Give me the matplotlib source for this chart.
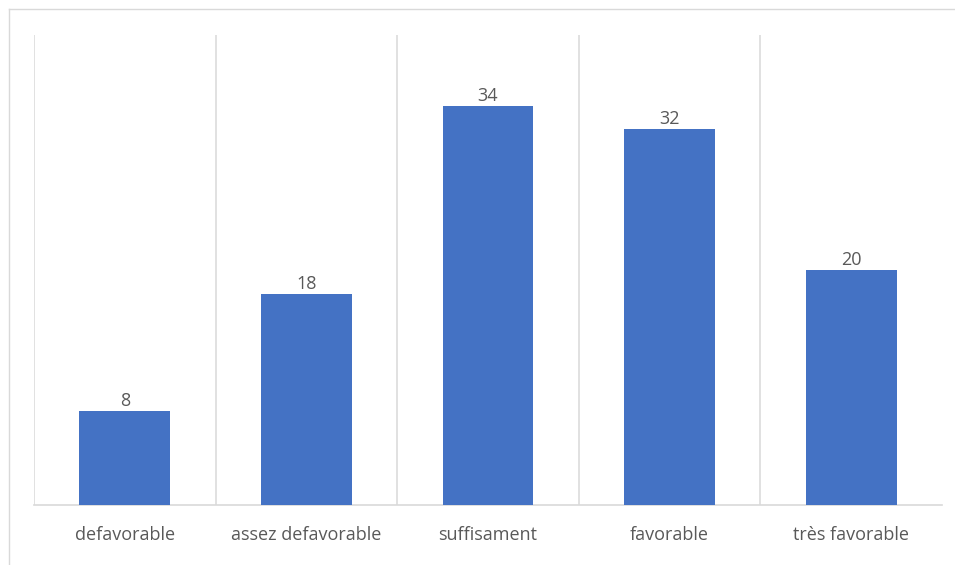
import matplotlib
matplotlib.use("Agg")
import matplotlib.pyplot as plt
from matplotlib.lines import Line2D

categories = ["defavorable", "assez defavorable", "suffisament", "favorable", "très favorable"]
values = [8, 18, 34, 32, 20]

W, H = 955, 565
fig = plt.figure(figsize=(W / 100, H / 100), dpi=100)
fig.patch.set_facecolor("white")

# chart border (top and left visible)
fig.add_artist(Line2D([9 / W, 1.0], [1 - 9 / H, 1 - 9 / H], color="#d9d9d9", lw=1.0, transform=fig.transFigure))
fig.add_artist(Line2D([9 / W, 9 / W], [0, 1 - 9 / H], color="#d9d9d9", lw=1.0, transform=fig.transFigure))

ax = fig.add_axes([34 / W, 1 - 505 / H, (942 - 34) / W, (505 - 35) / H])
x = list(range(len(categories)))
bars = ax.bar(x, values, width=0.5, color="#4472c4", zorder=3)

ax.set_xlim(-0.5, len(categories) - 0.5)
ax.set_ylim(0, 40)

for b in [i - 0.5 for i in range(len(categories))]:
    ax.axvline(b, color="#dcdcdc", lw=1.2, zorder=1)

for s in ["top", "right", "left"]:
    ax.spines[s].set_visible(False)
ax.spines["bottom"].set_color("#d9d9d9")
ax.spines["bottom"].set_linewidth(1.2)

ax.set_yticks([])
ax.set_xticks(x)
ax.set_xticklabels(categories, fontsize=13, color="#595959", family="Open Sans")
ax.tick_params(axis="x", length=0, pad=15)

for rect, v in zip(bars, values):
    ax.annotate(str(v), (rect.get_x() + rect.get_width() / 2, v), xytext=(0, 0.5),
                textcoords="offset points", ha="center", va="bottom",
                fontsize=13, color="#595959", family="Open Sans")

fig.savefig("out.png", dpi=100)
